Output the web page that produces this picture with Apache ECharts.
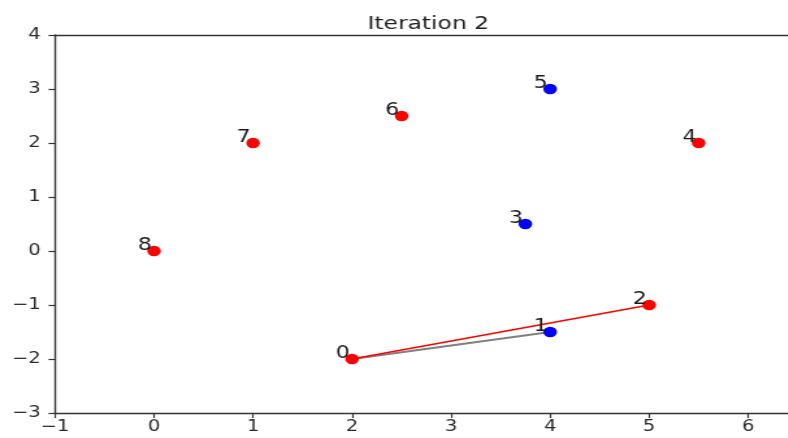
<!DOCTYPE html>
<html>
<head>
<meta charset="utf-8">
<script src="https://cdn.jsdelivr.net/npm/echarts@6/dist/echarts.min.js"></script>
<style>
html,body{margin:0;padding:0;background:#fff;overflow:hidden}
#wrap{width:788px;height:438px;overflow:hidden}
#c{height:438px;transform-origin:0 0}
</style>
</head>
<body>
<div id="wrap"><div id="c"></div></div>
<script>
const titleText = 'Iteration 2';
const pointLabels = ['0','1','2','3','4','5','6','7','8'];
const pointX = [2, 4, 5, 3.75, 5.5, 4, 2.5, 1, 0];
const pointY = [-2, -1.5, -1, 0.5, 2, 3, 2.5, 2, 0];
const pointColor = ['red','blue','red','blue','red','blue','red','red','red'];
const redLine = [[2, -2], [5, -1]];
const grayLine = [[2, -2], [4, -1.5]];
const xTicks = [-1, 0, 1, 2, 3, 4, 5, 6];
const yTicks = [-3, -2, -1, 0, 1, 2, 3, 4];

// the reference picture is stretched horizontally; reproduce by scaling the canvas
const S = 1.3;
const el = document.getElementById('c');
el.style.width = (788 / S) + 'px';
el.style.transform = 'scaleX(' + S + ')';

const colorMap = {red: '#ff0000', blue: '#0000ff'};
const fmt = v => String(v).replace('-', '\u2212');
const axisColor = '#333333';
const labelStyle = {color: '#2a2a2a', fontSize: 15, fontFamily: 'DejaVu Sans'};

const chart = echarts.init(el, null, {renderer: 'canvas'});
chart.setOption({
  animation: false,
  backgroundColor: '#ffffff',
  title: {
    text: titleText, left: 361 / S, top: 10,
    textStyle: {fontFamily: 'DejaVu Sans', fontSize: 18, fontWeight: 'normal', color: '#222222'}
  },
  grid: {left: 55 / S, right: 0, top: 35, bottom: 25, containLabel: false, outerBoundsMode: 'none'},
  xAxis: [{
    type: 'value', min: -1, max: 6.4, interval: 1,
    splitLine: {show: false},
    axisLine: {show: true, onZero: false, lineStyle: {color: axisColor, width: 1.4}},
    axisTick: {show: true, length: 5, inside: false, customValues: xTicks, lineStyle: {color: axisColor, width: 1.2}},
    axisLabel: Object.assign({customValues: xTicks, formatter: fmt, margin: 7}, labelStyle)
  }, {
    type: 'value', position: 'top', min: -1, max: 6.4,
    splitLine: {show: false},
    axisLine: {show: true, onZero: false, lineStyle: {color: axisColor, width: 1.4}},
    axisTick: {show: false}, axisLabel: {show: false}
  }],
  yAxis: {
    type: 'value', min: -3, max: 4, interval: 1,
    splitLine: {show: false},
    axisLine: {show: true, onZero: false, lineStyle: {color: axisColor, width: 1.4}},
    axisTick: {show: true, length: 5, inside: false, customValues: yTicks, lineStyle: {color: axisColor, width: 1.2}},
    axisLabel: Object.assign({customValues: yTicks, formatter: fmt, margin: 11}, labelStyle)
  },
  series: [
    {
      type: 'line', data: grayLine, symbol: 'none', z: 1,
      lineStyle: {color: '#808080', width: 2}
    },
    {
      type: 'line', data: redLine, symbol: 'none', z: 2,
      lineStyle: {color: '#ff0000', width: 1.6}
    },
    {
      type: 'scatter', z: 3,
      symbol: 'circle', symbolSize: 10.5,
      itemStyle: {opacity: 1},
      data: pointX.map((x, i) => ({
        value: [x, pointY[i]],
        name: pointLabels[i],
        itemStyle: {color: colorMap[pointColor[i]], opacity: 1}
      })),
      label: {
        show: true, position: 'left', distance: -3.5, offset: [0, -5],
        formatter: p => p.name,
        color: '#1a1a1a', fontSize: 17, fontFamily: 'DejaVu Sans'
      }
    }
  ]
});
</script>
</body>
</html>
